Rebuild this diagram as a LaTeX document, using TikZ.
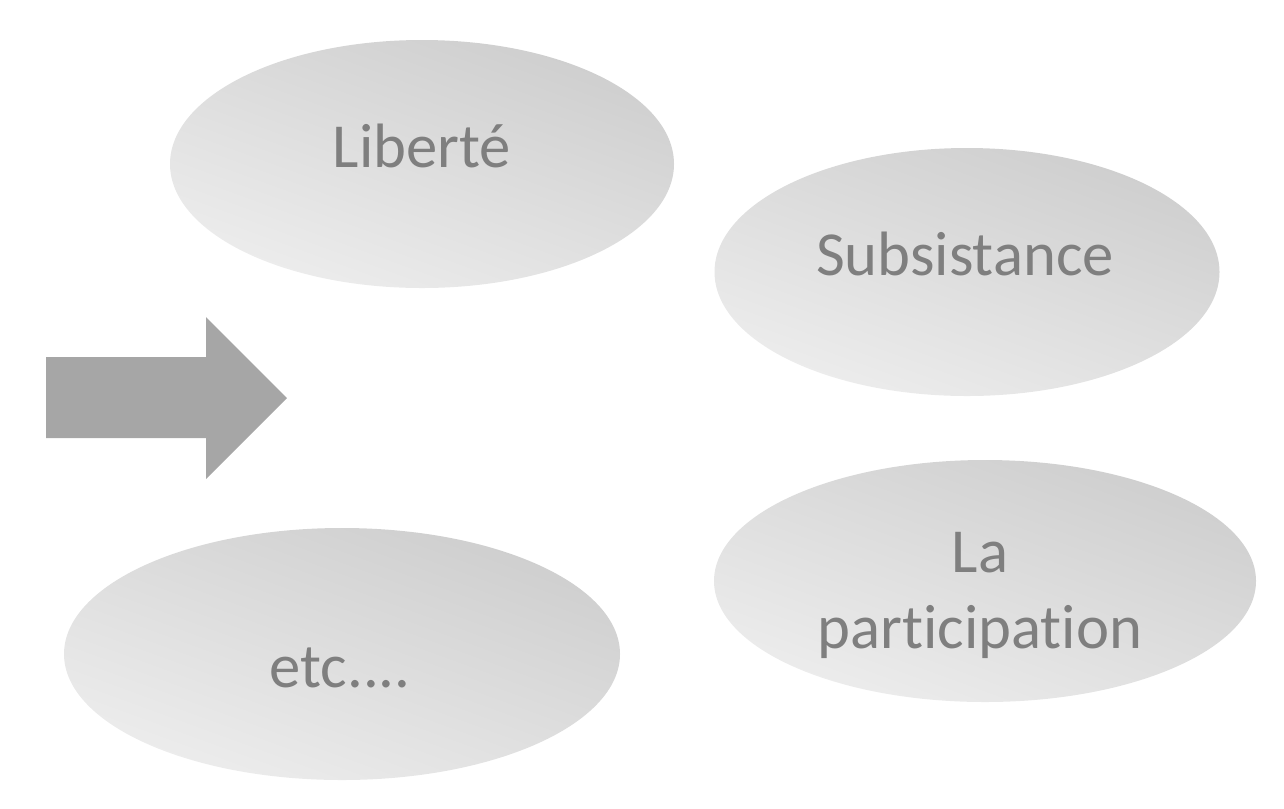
\documentclass[tikz,border=0pt]{standalone}
\usepackage{fontspec}
\setmainfont{Carlito}[RawFeature=-liga]
\definecolor{txtgray}{HTML}{7F7F7F}
\definecolor{shdark}{HTML}{CECECE}
\definecolor{shlight}{HTML}{EDEDED}
\definecolor{arrowgray}{HTML}{A6A6A6}
\tikzset{
  bubble/.style={ellipse, inner sep=0pt, draw=none, top color=shdark, bottom color=shlight, shading angle=-20},
  bubbletext/.style={anchor=base, inner sep=0pt, text=txtgray, font=\fontsize{47}{56}\selectfont},
}
\usetikzlibrary{shapes.geometric}
\begin{document}
\begin{tikzpicture}[x=0.75pt,y=-0.75pt]
\useasboundingbox (0,0) rectangle (1284,808);
% ellipses
\node[bubble, minimum width=378pt, minimum height=186pt] (lib) at (422,164) {};
\node[bubble, minimum width=378.75pt, minimum height=186pt] (sub) at (967,272) {};
\node[bubble, minimum width=406.5pt, minimum height=181.5pt] (part) at (985,581) {};
\node[bubble, minimum width=417pt, minimum height=189pt] (etc) at (342,654) {};
% texts
\node[bubbletext] (tlib) at (422,167) {Liberté};
\node[bubbletext] (tsub) at (965,275) {Subsistance};
\node[bubbletext] (tla) at (980,572) {La};
\node[bubbletext] (tpart) at (980,648) {participation};
\node[bubbletext] (tetc) at (340,687) {etc....};
% block arrow
\fill[arrowgray] (46,357) -- (206,357) -- (206,317) -- (287,398) -- (206,479) -- (206,438) -- (46,438) -- cycle;
\end{tikzpicture}
\end{document}
